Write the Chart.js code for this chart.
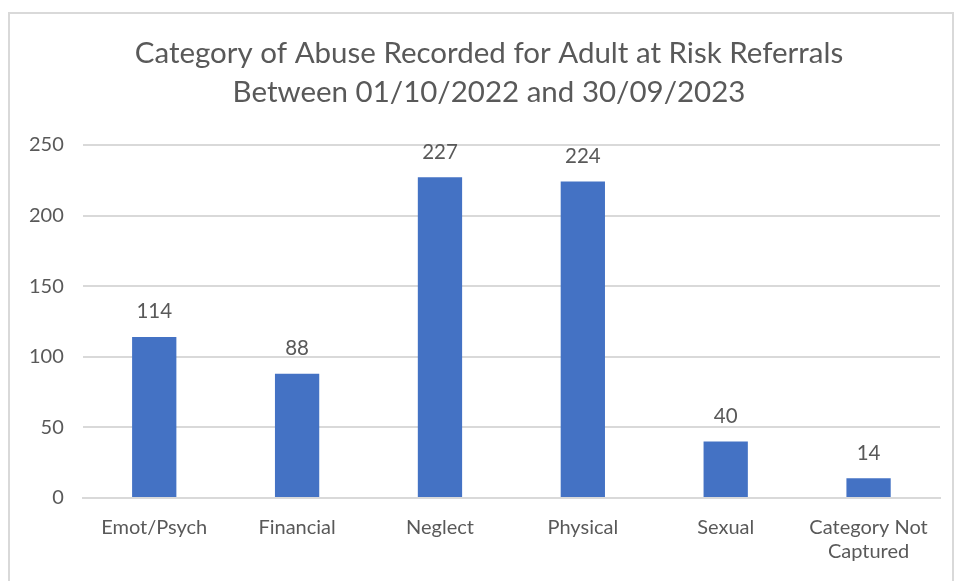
<!DOCTYPE html>
<html>
<head>
<meta charset="utf-8">
<script src="https://cdn.jsdelivr.net/npm/chart.js@4"></script>
<style>
  body { margin: 0; background: #fff; }
  #wrap { position: absolute; left: 8px; top: 12px; width: 946px; height: 580px;
          border: 2px solid #d9d9d9; box-sizing: border-box; }
  canvas { display: block; }
</style>
</head>
<body>
<div id="wrap"><canvas id="myChart"></canvas></div>
<script>
const categories = ['Emot/Psych', 'Financial', 'Neglect', 'Physical', 'Sexual', ['Category Not', 'Captured']];
const referrals = [114, 88, 227, 224, 40, 14];
const yTicks = [0, 50, 100, 150, 200, 250];
const titleLines = ['Category of Abuse Recorded for Adult at Risk Referrals', 'Between 01/10/2022 and 30/09/2023'];

const FONT = 'Lato, "Open Sans", sans-serif';
const GREY = '#595959';

// value above each bar
const valueLabels = {
  id: 'valueLabels',
  afterLayout(chart) {
    // nudge the title so it centres like the original
    chart.titleBlock.left += 28;
  },
  afterDatasetsDraw(chart) {
    const ctx = chart.ctx;
    const meta = chart.getDatasetMeta(0);
    ctx.save();
    ctx.font = '20.5px ' + FONT;
    ctx.fillStyle = GREY;
    ctx.textAlign = 'center';
    ctx.textBaseline = 'bottom';
    meta.data.forEach((bar, i) => {
      ctx.fillText(referrals[i], bar.x, bar.y - 15);
    });
    ctx.restore();
  }
};

const ctx = document.getElementById('myChart').getContext('2d');
new Chart(ctx, {
  type: 'bar',
  data: {
    labels: categories,
    datasets: [{
      data: referrals,
      backgroundColor: '#4472c4',
      categoryPercentage: 1,
      barPercentage: 0.31
    }]
  },
  options: {
    responsive: true,
    maintainAspectRatio: false,
    animation: false,
    layout: { padding: { left: 0, right: 12, top: 0, bottom: 16 } },
    plugins: {
      legend: { display: false },
      tooltip: { enabled: false },
      title: {
        display: true,
        text: titleLines,
        color: GREY,
        font: { family: FONT, size: 29.5, weight: 'normal', lineHeight: 1.32 },
        padding: { top: 20, bottom: 33 }
      }
    },
    scales: {
      x: {
        grid: { display: false },
        border: { color: '#d9d9d9', width: 2 },
        ticks: { color: GREY, font: { family: FONT, size: 20 }, padding: 10, maxRotation: 0 }
      },
      y: {
        min: 0, max: 250,
        afterBuildTicks(axis) { axis.ticks = yTicks.map(v => ({ value: v })); },
        grid: { color: '#d9d9d9', lineWidth: 2, drawTicks: false },
        border: { display: false },
        ticks: { color: GREY, font: { family: FONT, size: 20 }, padding: 19 }
      }
    }
  },
  plugins: [valueLabels]
});
</script>
</body>
</html>
